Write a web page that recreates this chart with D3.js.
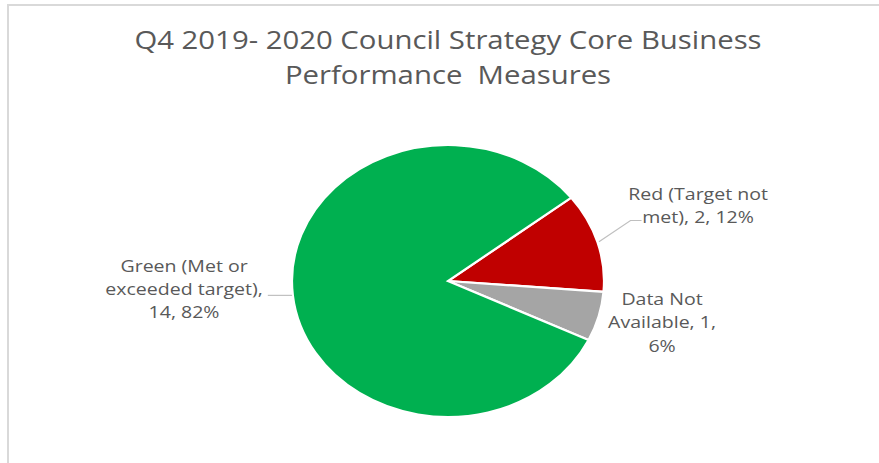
<!DOCTYPE html>
<html>
<head>
<meta charset="utf-8">
<script src="https://cdn.jsdelivr.net/npm/d3@7"></script>
<style>
  html, body { margin: 0; padding: 0; background: #fff; }
  svg { display: block; }
  text { font-family: "Open Sans", sans-serif; fill: #595959; }
</style>
</head>
<body>
<svg id="chart" width="879" height="463"></svg>
<script>
// ---- data ----
const titleLines = ["Q4 2019- 2020 Council Strategy Core Business", "Performance  Measures"];
const categories = ["Red (Target not met)", "Data Not Available", "Green (Met or exceeded target)"];
const values = [2, 1, 14];
const percents = ["12%", "6%", "82%"];
const colors = ["#C00000", "#A5A5A5", "#00B050"];
const labelLines = [
  ["Red (Target not", "met), 2, 12%"],
  ["Data Not", "Available, 1,", "6%"],
  ["Green (Met or", "exceeded target),", "14, 82%"]
];

// ---- layout ----
const W = 879, H = 463;
const cx = 448, cy = 281;
const ry = 136, rx = 156;          // slightly stretched (elliptical) pie
const sx = rx / ry;
const textStretch = 1.15;
const startDeg = 52.2;

const svg = d3.select("#chart");

// frame lines
svg.append("line").attr("x1", 7).attr("x2", W).attr("y1", 5).attr("y2", 5)
  .attr("stroke", "#d9d9d9").attr("stroke-width", 2);
svg.append("line").attr("x1", 8).attr("x2", 8).attr("y1", 4).attr("y2", H)
  .attr("stroke", "#d9d9d9").attr("stroke-width", 2);

// title
const titleBase = [48.5, 83.5];
titleLines.forEach((t, i) => {
  svg.append("g").attr("transform", `translate(${cx},${titleBase[i]}) scale(${textStretch},1)`)
    .append("text").attr("text-anchor", "middle").attr("font-size", 25.5)
    .style("white-space", "pre").attr("xml:space", "preserve").text(t);
});

// pie
const start = startDeg * Math.PI / 180;
const pie = d3.pie().sort(null).value(d => d)
  .startAngle(start).endAngle(start + 2 * Math.PI);
const arcs = pie(values);
const arc = d3.arc().innerRadius(0).outerRadius(ry);

const pg = svg.append("g").attr("transform", `translate(${cx},${cy}) scale(${sx},1)`);
pg.selectAll("path").data(arcs).join("path")
  .attr("d", arc)
  .attr("fill", (d, i) => colors[i])
  .attr("stroke", "#fff").attr("stroke-width", 2.2)
  .attr("vector-effect", "non-scaling-stroke");

// helper: point on the (stretched) pie edge at angle a, radial factor k
function edge(a, k) {
  return [cx + rx * k * Math.sin(a), cy - ry * k * Math.cos(a)];
}
const mid = d => (d.startAngle + d.endAngle) / 2;

// leader lines
const lineColor = "#bfbfbf";
{
  const p0 = edge(mid(arcs[0]), 1.01);
  const p1 = [cx + rx * 1.17, cy - 60.5];
  const p2 = [p1[0] + 11, p1[1]];
  svg.append("polyline").attr("points", [p0, p1, p2].map(p => p.join(",")).join(" "))
    .attr("fill", "none").attr("stroke", lineColor).attr("stroke-width", 1.2);
}
{
  const p0 = edge(mid(arcs[2]), 1.005);
  const p1 = [cx - rx * 1.155, p0[1]];
  svg.append("line").attr("x1", p0[0]).attr("y1", p0[1]).attr("x2", p1[0]).attr("y2", p1[1])
    .attr("stroke", lineColor).attr("stroke-width", 1.2);
}

// data labels
const labelPos = [
  { x: cx + rx * 1.603, y: cy - 81.5 },
  { x: cx + rx * 1.372, y: cy + 24 },
  { x: cx - rx * 1.692, y: cy - 9.3 }
];
const lineH = 23.3;
labelLines.forEach((lines, i) => {
  lines.forEach((t, j) => {
    svg.append("g")
      .attr("transform", `translate(${labelPos[i].x},${labelPos[i].y + j * lineH}) scale(${textStretch},1)`)
      .append("text").attr("text-anchor", "middle").attr("font-size", 17).text(t);
  });
});
</script>
</body>
</html>
